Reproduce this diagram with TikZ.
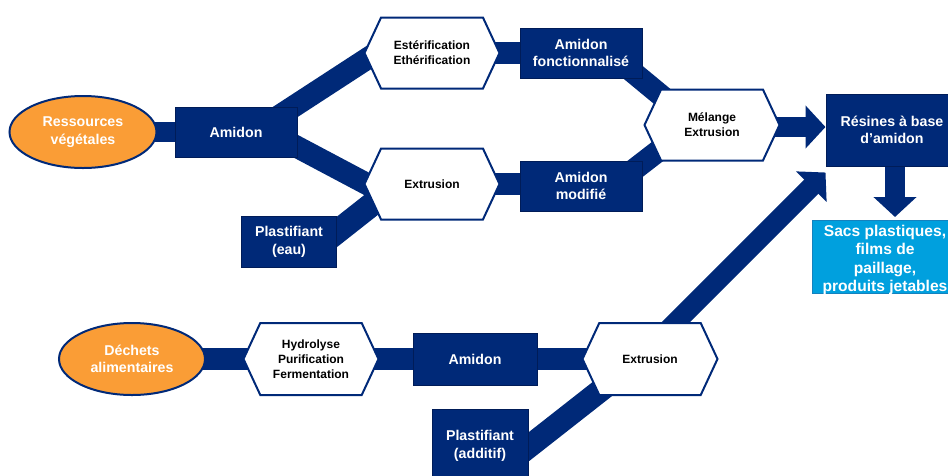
\documentclass[tikz,border=0pt]{standalone}
\usepackage{fontspec}
\setmainfont{Liberation Sans}
\usepackage{tikz}
\usetikzlibrary{positioning,shapes.geometric,shapes.symbols,arrows.meta,backgrounds,calc}

\definecolor{bleufonce}{RGB}{0,41,120}
\definecolor{bleubord}{RGB}{0,28,88}
\definecolor{orangeres}{RGB}{250,157,54}
\definecolor{bleuclair}{RGB}{0,160,222}
\definecolor{bleuclairbord}{RGB}{20,130,190}

\newcommand{\fgrand}{\bfseries\fontsize{14.2}{17.5}\selectfont}
\newcommand{\fpetit}{\bfseries\fontsize{12}{15}\selectfont}

\begin{document}
\begin{tikzpicture}[x=1pt,y=-1pt,
    boite/.style={rectangle, draw=bleubord, line width=1pt, fill=bleufonce,
        text=white, font=\fgrand, align=center, inner sep=0pt},
    hexa/.style={shape=signal, signal to=east and west, signal pointer angle=130,
        draw=bleufonce, line width=2pt, fill=white, minimum width=135pt,
        minimum height=71pt, font=\fpetit, align=center, inner sep=0pt},
    source/.style={ellipse, draw=bleufonce, line width=2pt, fill=orangeres,
        minimum width=147pt, minimum height=72pt, text=white, font=\fgrand,
        align=center, inner sep=0pt},
    barre/.style={draw=bleufonce, line width=22pt},
    fleche/.style={draw=bleufonce, line width=20pt, -{Triangle[length=20pt,width=42pt]}}]

    \useasboundingbox (0,0) rectangle (948,475);

    % filiere ressources vegetales
    \node[source] (res) at (83,132) {Ressources\\végétales};
    \node[boite, minimum width=122pt, minimum height=50pt] (am1) at (236,132) {Amidon};
    \node[hexa] (est) at (432,53) {Estérification\\Ethérification};
    \node[hexa] (ext1) at (432,184) {Extrusion};
    \node[boite, minimum width=95pt, minimum height=51pt] (plast1) at (289,242) {Plastifiant\\(eau)};
    \node[boite, minimum width=122pt, minimum height=50pt] (af) at (581,53) {Amidon\\fonctionnalisé};
    \node[boite, minimum width=122pt, minimum height=50pt] (amod) at (581,186) {Amidon\\modifié};
    \node[hexa] (mel) at (712,125) {Mélange\\Extrusion};
    \node[boite, minimum width=132pt, minimum height=72pt] (resine) at (892,130) {Résines à base\\d’amidon};
    \node[rectangle, draw=bleuclairbord, line width=1pt, fill=bleuclair, minimum width=146pt,
        minimum height=73pt, inner sep=0pt, text=white] (sacs) at (885,257)
        {\smash{\raisebox{-7pt}{\bfseries\fontsize{15.6}{18.4}\selectfont%
        \begin{tabular}{@{}c@{}}Sacs plastiques,\\films de\\paillage,\\produits jetables\end{tabular}}}};

    % filiere dechets alimentaires
    \node[source, minimum width=146pt] (dech) at (132,359) {Déchets\\alimentaires};
    \node[hexa, minimum height=72pt] (hyd) at (311,359) {Hydrolyse\\Purification\\Fermentation};
    \node[boite, minimum width=124pt, minimum height=52pt] (am2) at (475,359) {Amidon};
    \node[hexa, minimum height=72pt] (ext2) at (650,359) {Extrusion};
    \node[boite, minimum width=96pt, minimum height=74pt] (plast2) at (480,446) {Plastifiant\\(additif)};

    \begin{scope}[on background layer]
        \draw[barre, line width=20pt] (res.center) -- (am1.center);
        \draw[barre] ($(am1.center)+(0,12)$) -- ($(est.center)+(-50,-4)$);
        \draw[barre] ($(am1.center)+(14,-10)$) -- ($(ext1.center)+(-50,8)$);
        \draw[barre, line width=24pt] ($(plast1.center)+(16,15)$) -- ($(ext1.center)+(-47,10)$);
        \draw[barre] (est.center) -- (af.center);
        \draw[barre] (ext1.center) -- (ext1.center -| amod.center);
        \draw[barre] ($(af.center)+(19,-8)$) -- ($(mel.center)+(-37,-18)$);
        \draw[barre] ($(amod.center)+(19,10)$) -- ($(mel.center)+(-37,13)$);
        \draw[barre] (dech.center) -- (hyd.center) -- (am2.center) -- (ext2.center);
        \draw[barre, line width=23pt] ($(plast2.center)+(0,39)$) -- ($(ext2.center)+(-40,24)$);
        \draw[fleche] ($(mel.center)+(0,2)$) -- ($(resine.west)+(0,-3)$);
        \draw[fleche] ($(resine.center)+(3,0)$) -- ($(sacs.north)+(10,-3)$);
        \draw[fleche] ($(ext2.center)+(-11,0)$) -- ($(resine.south west)+(0,6)$);
    \end{scope}
\end{tikzpicture}
\end{document}
